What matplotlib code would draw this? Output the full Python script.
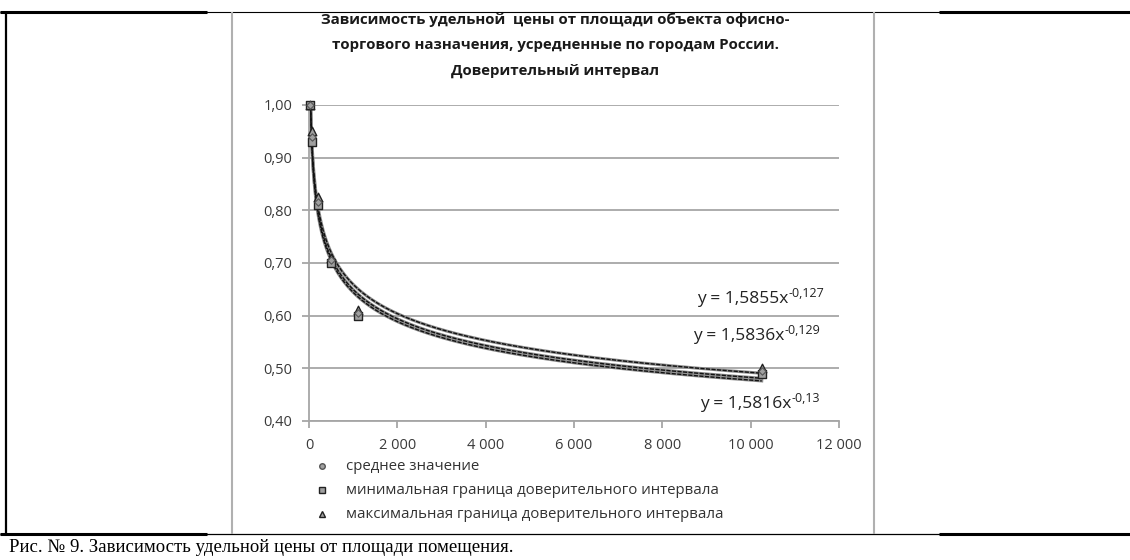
import numpy as np
import matplotlib
matplotlib.use("Agg")
import matplotlib.pyplot as plt
from matplotlib.lines import Line2D

# data
area = [30, 75, 200, 500, 1100, 10250]
mean_val = [1.00, 0.94, 0.815, 0.705, 0.605, 0.495]
min_val = [1.00, 0.93, 0.81, 0.70, 0.60, 0.49]
max_val = [1.00, 0.95, 0.825, 0.71, 0.61, 0.50]

# power trendlines y = a * x^b
fit_a = [1.5855, 1.5836, 1.5816]
fit_b = [-0.127, -0.129, -0.13]
fit_base = ["y = 1,5855x", "y = 1,5836x", "y = 1,5816x"]
fit_sup = ["-0,127", "-0,129", "-0,13"]

xticks = [0, 2000, 4000, 6000, 8000, 10000, 12000]
xtick_labels = ["0", "2 000", "4 000", "6 000", "8 000", "10 000", "12 000"]
yticks = [0.40, 0.50, 0.60, 0.70, 0.80, 0.90, 1.00]
ytick_labels = ["0,40", "0,50", "0,60", "0,70", "0,80", "0,90", "1,00"]

legend_names = ["среднее значение",
                "минимальная граница доверительного интервала",
                "максимальная граница доверительного интервала"]

title = ("Зависимость удельной  цены от площади объекта офисно-\n"
         "торгового назначения, усредненные по городам России.\n"
         "Доверительный интервал")
caption = "Рис. № 9. Зависимость удельной цены от площади помещения."

sans = ["Liberation Sans Narrow", "Open Sans", "DejaVu Sans"]
W, H = 1130, 560
fig = plt.figure(figsize=(W / 100, H / 100), dpi=100)

def fx(px):
    return px / W

def fy(py):
    return 1 - py / H

# table lines of the document page
def hline(y, x0, x1, lw, color="black"):
    fig.add_artist(Line2D([fx(x0), fx(x1)], [fy(y), fy(y)], color=color, lw=lw,
                          transform=fig.transFigure, solid_capstyle="butt"))

def vline(x, y0, y1, lw, color="black"):
    fig.add_artist(Line2D([fx(x), fx(x)], [fy(y0), fy(y1)], color=color, lw=lw,
                          transform=fig.transFigure, solid_capstyle="butt"))

hline(11.5, 0, W, 0.8)
hline(12, 0, 207, 2.2)
hline(12, 939, W, 2.2)
hline(534, 0, W, 0.9)
hline(534, 0, 207, 2.2)
hline(534, 939, W, 2.2)
vline(6, 12, 535, 1.6)
vline(232, 12, 534, 1.5, color="#b0b0b0")
vline(874, 12, 534, 1.5, color="#b0b0b0")

ax = fig.add_axes([fx(309), fy(421), fx(839) - fx(309), fy(105) - fy(421)])
ax.set_xlim(0, 12000)
ax.set_ylim(0.40, 1.00)

ax.set_yticks(yticks)
ax.set_yticklabels(ytick_labels)
ax.set_xticks(xticks)
ax.set_xticklabels(xtick_labels)
ax.yaxis.grid(True, color="#a6a6a6", lw=1.3)
ax.set_axisbelow(True)
for s in ["top", "right"]:
    ax.spines[s].set_visible(False)
for s in ["left", "bottom"]:
    ax.spines[s].set_color("#a6a6a6")
    ax.spines[s].set_linewidth(1.3)
ax.tick_params(axis="both", colors="#a6a6a6", length=5, width=1.3,
               labelcolor="#3a3a3a", labelsize=10.5, pad=7)
for lab in ax.get_xticklabels() + ax.get_yticklabels():
    lab.set_family(sans)
ax.set_facecolor("none")

# trendlines
xs = np.linspace(area[0], area[-1], 600)
for a, b in zip(fit_a, fit_b):
    ax.plot(xs, a * xs ** b, color="#8c8c8c", lw=2.2, zorder=2)
    ax.plot(xs, a * xs ** b, color="#111111", lw=1.0, dashes=(3, 1), zorder=3)

ax.scatter(area, max_val, marker="^", s=38, facecolor="#a0a0a0", edgecolor="#222222",
           lw=1.0, zorder=4, clip_on=False)
ax.scatter(area, min_val, marker="s", s=38, facecolor="#a0a0a0", edgecolor="#222222",
           lw=1.0, zorder=5, clip_on=False)
ax.scatter(area, mean_val, marker="D", s=14, facecolor="#a0a0a0", edgecolor="#555555",
           lw=0.8, zorder=6, clip_on=False)

# equations: base text plus a separate superscript
eq_pos = [(697, 299), (693, 336), (700, 404)]
for (px, py), base, sup in zip(eq_pos, fit_base, fit_sup):
    t = fig.text(fx(px), fy(py), base, ha="left", va="center", fontsize=12.5,
                 color="#222222", family=sans)
    ax.annotate(sup, xy=(1.0, 0.85), xycoords=t, ha="left", va="center",
                fontsize=9, color="#222222", family=sans, annotation_clip=False)

# title
fig.text(fx(555), fy(45), title, ha="center", va="center", fontsize=10.8, weight="bold",
         linespacing=2.05, color="#1a1a1a", family=sans)

# legend drawn by hand below the plot
leg_y = [466, 490, 514]
fig.add_artist(Line2D([fx(322)], [fy(leg_y[0])], marker="o", ms=4, mfc="#a0a0a0",
                      mec="#555555", lw=0, transform=fig.transFigure))
fig.add_artist(Line2D([fx(322)], [fy(leg_y[1])], marker="s", ms=5, mfc="#a0a0a0",
                      mec="#222222", lw=0, transform=fig.transFigure))
fig.add_artist(Line2D([fx(322)], [fy(leg_y[2])], marker="^", ms=5, mfc="#a0a0a0",
                      mec="#222222", lw=0, transform=fig.transFigure))
for yy, name in zip(leg_y, legend_names):
    fig.text(fx(346), fy(yy), name, ha="left", va="center", fontsize=10.8,
             color="#333333", family=sans)

# caption
fig.text(fx(9), fy(548), caption, ha="left", va="center", fontsize=13.5,
         color="black", family=["Liberation Serif", "DejaVu Serif"])

fig.savefig("out.png", dpi=100)
